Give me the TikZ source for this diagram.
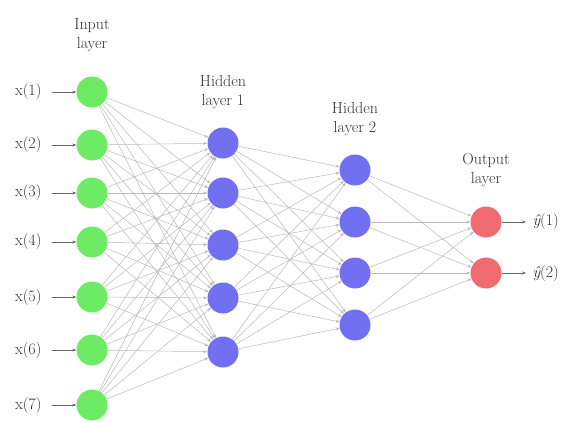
\documentclass[tikz,border=0pt]{standalone}
\usetikzlibrary{arrows.meta}
\definecolor{ingreen}{RGB}{110,235,100}
\definecolor{hidblue}{RGB}{112,112,240}
\definecolor{outred}{RGB}{240,108,112}
\begin{document}
\begin{tikzpicture}[x=1pt,y=-1pt,
  neuron/.style={circle,minimum size=31pt,inner sep=0pt,draw=none},
  inneuron/.style={neuron,fill=ingreen},
  hidneuron/.style={neuron,fill=hidblue},
  outneuron/.style={neuron,fill=outred},
  conn/.style={draw=gray!55,line width=0.5pt,-{Stealth[length=4pt,width=3pt]}},
  ioarrow/.style={draw=gray!80!black,line width=0.5pt,-{Stealth[length=4pt,width=3pt]}},
  lbl/.style={font=\fontsize{16}{19}\selectfont,align=center,text=black!80},
  iotext/.style={font=\fontsize{16}{18}\selectfont,text=black!80}]
\useasboundingbox (0,0) rectangle (561,421);
\foreach \i/\y in {1/92,2/145,3/193,4/242,5/297,6/350,7/405}
  \node[inneuron] (I\i) at (92,\y) {};
\foreach \i/\y in {1/143,2/193,3/245,4/298,5/352}
  \node[hidneuron] (H\i) at (223,\y) {};
\foreach \i/\y in {1/170,2/222,3/273,4/325}
  \node[hidneuron] (K\i) at (355,\y) {};
\foreach \i/\y in {1/222,2/273}
  \node[outneuron] (O\i) at (486,\y) {};
\foreach \i in {1,...,7}
  \foreach \j in {1,...,5}
    \draw[conn] (I\i) -- (H\j);
\foreach \i in {1,...,5}
  \foreach \j in {1,...,4}
    \draw[conn] (H\i) -- (K\j);
\foreach \i in {1,...,4}
  \foreach \j in {1,2}
    \draw[conn] (K\i) -- (O\j);
\foreach \i in {1,...,7} {
  \node[iotext,anchor=east] (X\i) at (45,0 |- I\i) {x(\i)};
  \draw[ioarrow,shorten <=7pt] (X\i) -- (I\i);
}
\node[iotext,anchor=west] (Y1) at (529,222) {{\itshape ŷ}(1)};
\node[iotext,anchor=west] (Y2) at (529,273) {{\itshape ŷ}(2)};
\draw[ioarrow,shorten >=3pt] (O1) -- (Y1);
\draw[ioarrow,shorten >=3pt] (O2) -- (Y2);
\node[lbl] (LI) at (92,35) {Input\\layer};
\node[lbl] (LH1) at (223,92) {Hidden\\layer 1};
\node[lbl] (LH2) at (355,119) {Hidden\\layer 2};
\node[lbl] (LO) at (486,170) {Output\\layer};
\end{tikzpicture}
\end{document}
